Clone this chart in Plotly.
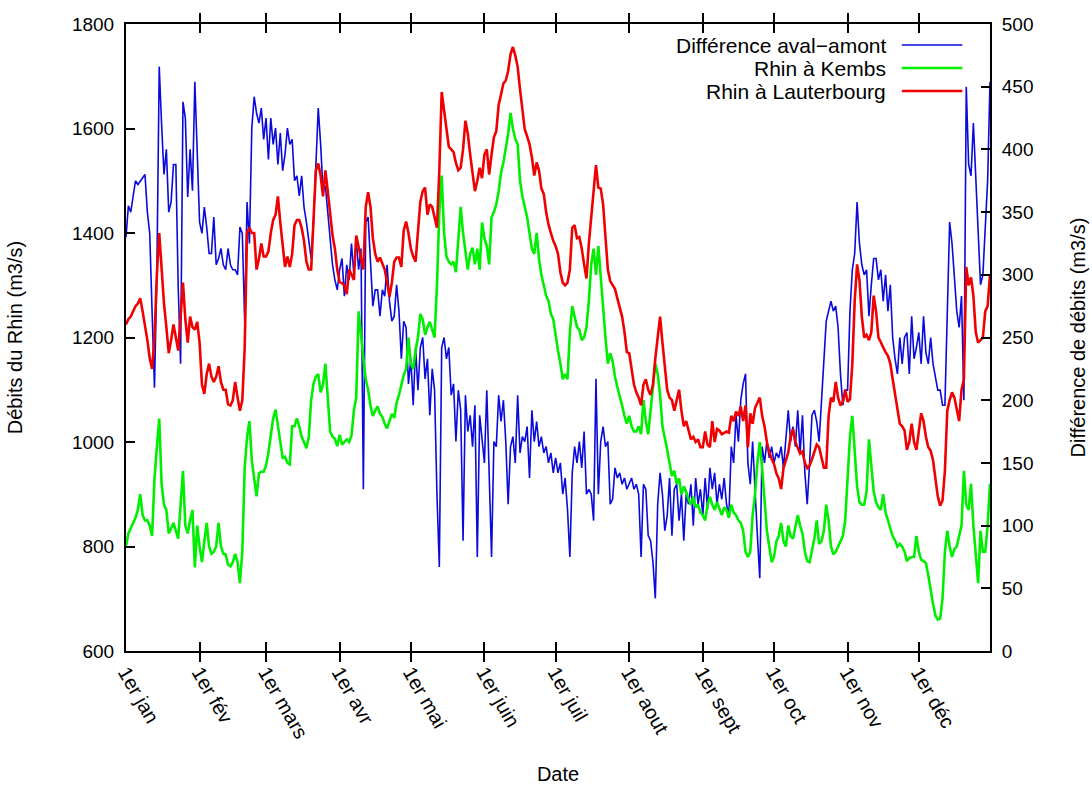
import plotly.graph_objects as go
import pandas as pd

# ---- data (daily values, 2010-like year, 365 days) ----
dates = pd.date_range("2010-01-01", "2010-12-31", freq="D")

month_starts = ["2010-01-01", "2010-02-01", "2010-03-01", "2010-04-01", "2010-05-01", "2010-06-01",
                "2010-07-01", "2010-08-01", "2010-09-01", "2010-10-01", "2010-11-01", "2010-12-01"]
month_labels = ["1er jan", "1er fév", "1er mars", "1er avr", "1er mai", "1er juin",
                "1er juil", "1er aout", "1er sept", "1er oct", "1er nov", "1er déc"]

# Différence aval-amont (m3/s, right axis)
diff_aval_amont = [
    330, 355, 350, 362, 375, 372, 375, 378, 380, 350, 333, 270, 210, 300, 466, 420, 380, 400, 350, 358,
    388, 388, 290, 229, 438, 425, 362, 400, 367, 454, 400, 342,
    333, 354, 338, 317, 317, 346, 308, 313, 321, 308, 304, 321, 308, 304, 304, 300, 338, 333, 263, 358,
    325, 417, 442, 429, 421, 433, 408,
    425, 392, 425, 404, 417, 388, 413, 383, 396, 417, 404, 408, 375, 379, 363, 379, 354, 342, 325, 313,
    342, 392, 433, 404, 367, 371, 350, 333, 308, 296, 288,
    304, 313, 283, 308, 296, 325, 300, 329, 304, 321, 129, 342, 346, 308, 275, 288, 288, 267, 288, 283,
    308, 279, 263, 267, 292, 271, 233, 263, 258, 213,
    233, 196, 242, 208, 242, 250, 217, 233, 188, 225, 208, 125, 67, 242, 250, 233, 242, 204, 213, 167,
    208, 192, 88, 204, 175, 188, 163, 196, 75, 188, 167,
    150, 208, 150, 75, 167, 163, 204, 183, 200, 167, 117, 163, 171, 150, 204, 158, 171, 167, 179, 138,
    192, 167, 183, 163, 171, 158, 163, 150, 158, 142,
    154, 142, 150, 125, 138, 113, 75, 142, 163, 150, 167, 146, 175, 125, 129, 125, 104, 217, 125, 167,
    179, 163, 167, 117, 121, 146, 138, 142, 133, 138, 129,
    133, 138, 129, 133, 125, 75, 133, 129, 92, 88, 71, 42, 117, 142, 125, 96, 108, 138, 92, 129,
    133, 104, 125, 88, 125, 117, 133, 100, 138, 117, 129,
    108, 138, 113, 146, 129, 142, 117, 133, 121, 138, 117, 108, 163, 150, 188, 167, 200, 213, 221, 150,
    133, 167, 125, 92, 58, 163, 150, 167, 154, 163,
    150, 158, 154, 163, 146, 167, 192, 167, 179, 163, 192, 158, 188, 142, 117, 150, 188, 192, 183, 167,
    200, 225, 263, 271, 279, 271, 275, 258, 221, 196, 208,
    208, 271, 304, 317, 358, 325, 308, 300, 304, 267, 292, 313, 313, 296, 304, 279, 300, 271, 292, 250,
    233, 221, 250, 229, 250, 254, 221, 267, 233, 242,
    254, 229, 267, 238, 229, 250, 229, 217, 208, 208, 196, 196, 271, 342, 325, 296, 271, 258, 283, 200,
    450, 388, 379, 421, 375, 333, 292, 300, 333, 375, 454,
]

# Rhin à Kembs (m3/s, left axis)
rhin_kembs = [
    800, 825, 835, 845, 855, 870, 900, 860, 850, 850, 840, 820, 930, 990, 1045, 920, 880, 870, 825, 835,
    845, 830, 815, 880, 945, 840, 825, 850, 870, 760, 840, 800,
    770, 810, 845, 800, 786, 790, 800, 845, 800, 786, 785, 765, 762, 770, 786, 770, 730, 790, 950, 1010,
    1040, 965, 930, 896, 940, 943, 943,
    955, 980, 1015, 1045, 1062, 1030, 992, 970, 972, 960, 957, 1030, 1030, 1045, 1030, 1010, 1000, 988, 1010, 1080,
    1112, 1125, 1130, 1095, 1110, 1150, 1085, 1020, 1010, 1006, 992,
    1014, 995, 1000, 1005, 1000, 1012, 1060, 1085, 1250, 1200, 1160, 1120, 1100, 1070, 1050, 1060, 1068, 1054, 1048, 1035,
    1026, 1040, 1054, 1046, 1075, 1090, 1112, 1128, 1140, 1200,
    1150, 1140, 1175, 1200, 1245, 1235, 1205, 1220, 1230, 1215, 1200, 1300, 1440, 1510, 1400, 1355, 1345, 1340, 1345, 1325,
    1380, 1450, 1400, 1360, 1330, 1360, 1372, 1340, 1370, 1330, 1420,
    1390, 1375, 1340, 1430, 1440, 1455, 1480, 1515, 1535, 1560, 1590, 1630, 1600, 1580, 1570, 1500, 1470, 1450, 1430, 1400,
    1370, 1360, 1400, 1350, 1320, 1300, 1280, 1270, 1245, 1235,
    1200, 1175, 1150, 1120, 1130, 1120, 1210, 1260, 1240, 1220, 1215, 1195, 1200, 1220, 1270, 1340, 1370, 1320, 1375, 1310,
    1260, 1200, 1150, 1170, 1155, 1125, 1105, 1090, 1070, 1050, 1035,
    1050, 1030, 1020, 1020, 1030, 1015, 1080, 1040, 1015, 1060, 1110, 1150, 1130, 1090, 1030, 1010, 985, 960, 935, 945,
    920, 930, 900, 915, 905, 890, 880, 895, 875, 880, 865,
    860, 850, 880, 895, 880, 870, 885, 870, 860, 875, 870, 855, 880, 865, 860, 850, 845, 830, 790, 780,
    790, 860, 900, 960, 1000, 950, 880, 830, 800, 770,
    780, 810, 820, 845, 810, 800, 840, 820, 815, 840, 860, 840, 825, 790, 772, 770, 795, 815, 850, 805,
    810, 830, 880, 850, 800, 785, 790, 800, 810, 820, 850,
    930, 1010, 1050, 975, 915, 885, 880, 880, 905, 1005, 960, 905, 885, 875, 870, 900, 865, 850, 835, 820,
    812, 800, 805, 800, 790, 772, 778, 780, 780, 820,
    790, 775, 772, 768, 745, 715, 690, 668, 660, 662, 700, 790, 830, 800, 780, 795, 800, 820, 840, 945,
    880, 870, 920, 840, 780, 730, 830, 790, 790, 840, 920,
]

# Rhin à Lauterbourg (m3/s, left axis)
rhin_lauterbourg = [
    1225, 1235, 1240, 1250, 1260, 1265, 1275, 1250, 1225, 1195, 1160, 1140, 1200, 1320, 1400, 1330, 1265, 1220, 1170, 1195,
    1225, 1200, 1175, 1240, 1305, 1235, 1190, 1240, 1220, 1215, 1230, 1190,
    1110, 1092, 1130, 1150, 1125, 1115, 1125, 1145, 1115, 1100, 1100, 1072, 1070, 1080, 1115, 1085, 1060, 1080, 1180, 1400,
    1410, 1400, 1400, 1330, 1350, 1380, 1355,
    1355, 1365, 1400, 1425, 1435, 1470, 1420, 1370, 1335, 1355, 1335, 1360, 1415, 1425, 1425, 1410, 1385, 1345, 1330, 1330,
    1440, 1520, 1533, 1510, 1470, 1520, 1480, 1440, 1396, 1370, 1330,
    1306, 1304, 1300, 1283, 1330, 1320, 1310, 1395, 1375, 1350, 1330, 1450, 1478, 1450, 1390, 1360, 1345, 1353, 1340, 1330,
    1305, 1278, 1305, 1345, 1353, 1353, 1335, 1405, 1422, 1400,
    1370, 1355, 1345, 1400, 1460, 1480, 1487, 1435, 1455, 1450, 1430, 1410, 1520, 1670, 1635, 1600, 1565, 1560, 1555, 1534,
    1520, 1525, 1560, 1615, 1590, 1550, 1512, 1480, 1500, 1525, 1505,
    1550, 1560, 1512, 1550, 1583, 1595, 1645, 1665, 1686, 1692, 1710, 1742, 1756, 1740, 1718, 1675, 1635, 1598, 1585, 1570,
    1545, 1510, 1535, 1520, 1485, 1475, 1440, 1416, 1400, 1385,
    1375, 1360, 1325, 1305, 1300, 1305, 1330, 1410, 1415, 1390, 1392, 1370, 1340, 1313, 1380, 1435, 1490, 1530, 1487, 1485,
    1455, 1400, 1330, 1308, 1300, 1293, 1275, 1260, 1240, 1211, 1172,
    1170, 1140, 1110, 1095, 1085, 1070, 1110, 1120, 1100, 1090, 1110, 1160, 1200, 1240, 1190, 1140, 1100, 1085, 1080, 1060,
    1080, 1100, 1060, 1030, 1040, 1020, 1005, 1010, 1000, 1005, 990,
    990, 1020, 995, 990, 1040, 1000, 1025, 1022, 1015, 1018, 1020, 1018, 1050, 1040, 1058, 1050, 1068, 1040, 1070, 990,
    1055, 1035, 1065, 1075, 1085, 1050, 1030, 1000, 980, 968,
    958, 940, 930, 910, 950, 965, 980, 1010, 1025, 1000, 990, 978, 982, 960, 950, 955, 967, 980, 995, 990,
    972, 951, 951, 1050, 1085, 1077, 1115, 1085, 1070, 1077, 1100,
    1077, 1082, 1150, 1270, 1340, 1310, 1240, 1200, 1205, 1195, 1210, 1280, 1250, 1200, 1190, 1180, 1172, 1165, 1150, 1120,
    1090, 1060, 1035, 1030, 1022, 985, 1000, 1035, 1000, 985,
    1020, 1055, 1040, 1010, 990, 983, 965, 930, 896, 878, 888, 945, 1060, 1080, 1095, 1085, 1065, 1040, 1100, 1120,
    1335, 1300, 1315, 1280, 1210, 1190, 1195, 1200, 1250, 1260, 1320,
]

series_names = ["Différence aval\u2212amont", "Rhin à Kembs", "Rhin à Lauterbourg"]
series_colors = ["#0a0adc", "#00ee00", "#f00000"]

FONT = "Liberation Sans, Arial, Helvetica, sans-serif"
TXT = 20

fig = go.Figure()
# blue on the base (right) axis so that it is drawn beneath the other two
fig.add_trace(go.Scatter(x=dates, y=diff_aval_amont, name=series_names[0], mode="lines",
                         line=dict(color=series_colors[0], width=1.6), yaxis="y"))
fig.add_trace(go.Scatter(x=dates, y=rhin_kembs, name=series_names[1], mode="lines",
                         line=dict(color=series_colors[1], width=2.6), yaxis="y2"))
fig.add_trace(go.Scatter(x=dates, y=rhin_lauterbourg, name=series_names[2], mode="lines",
                         line=dict(color=series_colors[2], width=2.6), yaxis="y2"))

axis_common = dict(showgrid=False, zeroline=False, showline=True, linecolor="black", linewidth=2,
                   ticks="inside", ticklen=9, tickwidth=1.5, tickcolor="black", automargin=False)

fig.update_layout(
    width=1092, height=785, autosize=False,
    margin=dict(l=126, r=102, t=24, b=134),
    paper_bgcolor="white", plot_bgcolor="white",
    showlegend=False,
    font=dict(family=FONT, size=TXT, color="black"),
    xaxis=dict(**axis_common, type="date", range=["2010-01-01", "2010-12-31"],
               tickvals=month_starts, ticktext=month_labels, tickangle=60, mirror="allticks",
               tickfont=dict(family=FONT, size=TXT, color="black"),
               title=dict(text="Date", font=dict(family=FONT, size=TXT, color="black"), standoff=28)),
    yaxis=dict(**axis_common, side="right", range=[0, 500], dtick=50, tick0=0,
               ticklabelstandoff=6, tickfont=dict(family=FONT, size=19, color="black"),
               title=dict(text="Différence de débits (m3/s)", font=dict(family=FONT, size=TXT, color="black"),
                          standoff=38)),
    yaxis2=dict(**axis_common, side="left", overlaying="y", range=[600, 1800], dtick=200, tick0=600,
                ticklabelstandoff=6, tickfont=dict(family=FONT, size=19, color="black"),
                title=dict(text="Débits du Rhin (m3/s)", font=dict(family=FONT, size=TXT, color="black"),
                           standoff=44)),
)

# legend drawn gnuplot-style: right-aligned text followed by a line sample
legend_y = [0.9665, 0.9298, 0.8931]
for name, color, ly, w in zip(series_names, series_colors, legend_y, [1.6, 2.6, 2.6]):
    fig.add_annotation(xref="paper", yref="paper", x=0.882, y=ly, xanchor="right", yanchor="middle",
                       text=name, showarrow=False, font=dict(family=FONT, size=21, color="black"))
    fig.add_shape(type="line", xref="paper", yref="paper", x0=0.898, x1=0.968, y0=ly, y1=ly,
                  line=dict(color=color, width=w))

fig.write_html("out.html")
